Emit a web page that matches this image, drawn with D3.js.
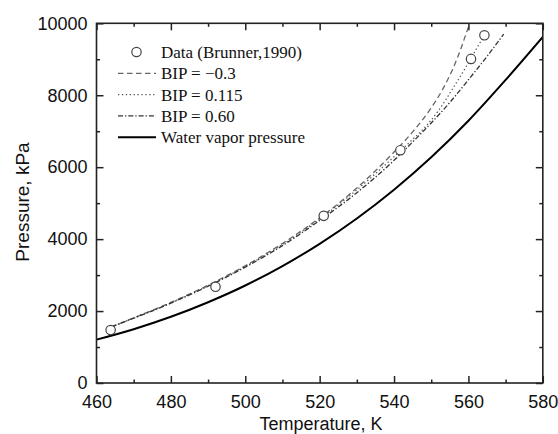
<!DOCTYPE html>
<html><head><meta charset="utf-8">
<script src="https://cdn.jsdelivr.net/npm/d3@7"></script>
<style>body{margin:0;background:#fff}svg{display:block}</style>
</head><body>
<svg id="c" width="558" height="434"></svg>
<script>
// ---- data ----
const dataT = [463.8, 492.0, 521.1, 541.7, 560.7, 564.3];
const dataP = [1472, 2675, 4647, 6472, 9010, 9667];

const waterT = [460, 470, 480, 490, 500, 510, 520, 530, 540, 550, 560, 570, 580];
const waterP = [1205, 1495, 1840, 2245, 2710, 3250, 3870, 4575, 5375, 6275, 7290, 8425, 9620];

const bipNegT = [464, 470, 480, 490, 500, 510, 520, 530, 540, 545, 550, 553, 556, 558, 559.5, 560.4];
const bipNegP = [1560, 1810, 2240, 2720, 3260, 3880, 4590, 5420, 6420, 6980, 7650, 8150, 8780, 9300, 9750, 10000];

const bipMidT = [464, 470, 480, 490, 500, 510, 520, 530, 540, 545, 549, 552, 556, 560.5, 563, 565.2];
const bipMidP = [1560, 1805, 2230, 2705, 3240, 3850, 4560, 5370, 6290, 6770, 7190, 7580, 8220, 8990, 9440, 9820];

const bipHiT = [464, 470, 480, 490, 500, 510, 520, 530, 540, 545, 550, 555, 560, 565, 569.5];
const bipHiP = [1560, 1800, 2220, 2690, 3220, 3820, 4520, 5290, 6190, 6700, 7230, 7800, 8430, 9080, 9700];

const xTicks = [460, 480, 500, 520, 540, 560, 580];
const yTicks = [0, 2000, 4000, 6000, 8000, 10000];

const legendLabels = ["Data (Brunner,1990)", "BIP = \u22120.3", "BIP = 0.115", "BIP = 0.60", "Water vapor pressure"];

// ---- layout ----
const svg = d3.select("#c");
const L = 96.5, R = 542.8, T = 23.3, B = 383;
const x = d3.scaleLinear().domain([460, 580]).range([L, R]);
const y = d3.scaleLinear().domain([0, 10000]).range([B, T]);

svg.append("defs").append("clipPath").attr("id", "clip")
  .append("rect").attr("x", L).attr("y", T).attr("width", R - L).attr("height", B - T);

const line = d3.line().x(d => x(d[0])).y(d => y(d[1])).curve(d3.curveMonotoneX);
const zip = (a, b) => a.map((v, i) => [v, b[i]]);

const styles = [
  {T: bipNegT, P: bipNegP, dash: "5.5,3.5", color: "#666", w: 1.3},
  {T: bipMidT, P: bipMidP, dash: "1.3,2.6", color: "#555", w: 1.3},
  {T: bipHiT, P: bipHiP, dash: "5,2,1.3,2", color: "#333", w: 1.3},
  {T: waterT, P: waterP, dash: null, color: "#000", w: 2}
];

const g = svg.append("g").attr("clip-path", "url(#clip)");
styles.forEach(s => {
  g.append("path").datum(zip(s.T, s.P)).attr("d", line)
    .attr("fill", "none").attr("stroke", s.color).attr("stroke-width", s.w)
    .attr("stroke-dasharray", s.dash);
});

g.selectAll("circle.d").data(zip(dataT, dataP)).join("circle")
  .attr("cx", d => x(d[0])).attr("cy", d => y(d[1])).attr("r", 4.7)
  .attr("fill", "#fff").attr("stroke", "#444").attr("stroke-width", 1.2);

// ---- axes ----
const fontSans = "Liberation Sans, Arial, sans-serif";
const xMinor = d3.range(470, 580, 20);
const yMinor = d3.range(1000, 10000, 2000);

const xAxB = d3.axisBottom(x).tickValues(xTicks).tickSize(-7).tickPadding(12).tickFormat(d3.format("d"));
const gxb = svg.append("g").attr("transform", `translate(0,${B})`).call(xAxB);
gxb.selectAll("text").attr("font-family", fontSans).attr("font-size", 18).attr("fill", "#111");
const gxbm = svg.append("g").attr("transform", `translate(0,${B})`)
  .call(d3.axisBottom(x).tickValues(xMinor).tickSize(-3.5).tickFormat(""));

const gxt = svg.append("g").attr("transform", `translate(0,${T})`)
  .call(d3.axisTop(x).tickValues(xTicks).tickSize(-7).tickFormat(""));
const gxtm = svg.append("g").attr("transform", `translate(0,${T})`)
  .call(d3.axisTop(x).tickValues(xMinor).tickSize(-3.5).tickFormat(""));

const yAxL = d3.axisLeft(y).tickValues(yTicks).tickSize(-7).tickPadding(9).tickFormat(d3.format("d"));
const gyl = svg.append("g").attr("transform", `translate(${L},0)`).call(yAxL);
gyl.selectAll("text").attr("font-family", fontSans).attr("font-size", 18).attr("fill", "#111");
const gylm = svg.append("g").attr("transform", `translate(${L},0)`)
  .call(d3.axisLeft(y).tickValues(yMinor).tickSize(-3.5).tickFormat(""));

const gyr = svg.append("g").attr("transform", `translate(${R},0)`)
  .call(d3.axisRight(y).tickValues(yTicks).tickSize(-7).tickFormat(""));
const gyrm = svg.append("g").attr("transform", `translate(${R},0)`)
  .call(d3.axisRight(y).tickValues(yMinor).tickSize(-3.5).tickFormat(""));

[gxb, gxbm, gxt, gxtm, gyl, gylm, gyr, gyrm].forEach(a => {
  a.select(".domain").remove();
  a.selectAll("line").attr("stroke", "#222").attr("stroke-width", 1.5);
});

svg.append("rect").attr("x", L).attr("y", T).attr("width", R - L).attr("height", B - T)
  .attr("fill", "none").attr("stroke", "#222").attr("stroke-width", 1.6);

svg.append("text").attr("x", 321).attr("y", 430).attr("text-anchor", "middle")
  .attr("font-family", fontSans).attr("font-size", 18).attr("fill", "#111").text("Temperature, K");
svg.append("text").attr("transform", "translate(29,202) rotate(-90)").attr("text-anchor", "middle")
  .attr("font-family", fontSans).attr("font-size", 19).attr("fill", "#111").text("Pressure, kPa");

// ---- legend ----
const fontSerif = "Liberation Serif, 'Times New Roman', serif";
const legY = [52, 73.3, 94.6, 115.9, 137.2];
const lg = svg.append("g");
legendLabels.forEach((lab, i) => {
  const yy = legY[i];
  if (i === 0) {
    lg.append("circle").attr("cx", 136.5).attr("cy", yy).attr("r", 4.7)
      .attr("fill", "#fff").attr("stroke", "#444").attr("stroke-width", 1.2);
  } else {
    const s = styles[i - 1];
    lg.append("line").attr("x1", 118).attr("x2", 156).attr("y1", yy).attr("y2", yy)
      .attr("stroke", s.color).attr("stroke-width", s.w).attr("stroke-dasharray", s.dash);
  }
  lg.append("text").attr("x", 161).attr("y", yy).attr("dy", "0.35em")
    .attr("font-family", fontSerif).attr("font-size", 17).attr("fill", "#111").text(lab);
});
</script>
</body></html>
